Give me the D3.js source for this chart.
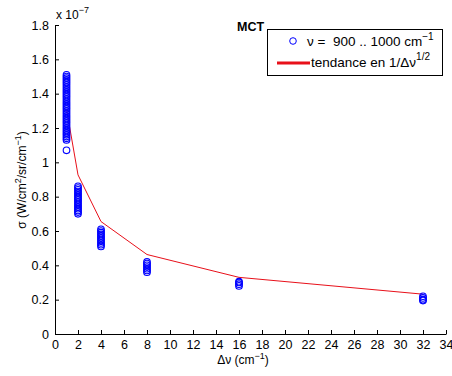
<!DOCTYPE html>
<html>
<head>
<meta charset="utf-8">
<script src="https://cdn.jsdelivr.net/npm/d3@7"></script>
<style>
  html, body { margin: 0; padding: 0; background: #fff; }
  svg { display: block; font-family: "Liberation Sans", Arial, Helvetica, sans-serif; }
</style>
</head>
<body>
<svg id="chart" width="452" height="376"></svg>
<script>
// Noise sigma (units of 1e-7 W/cm²/sr/cm⁻¹) vs spectral resolution Δν, MCT detector
const resolutions = [1, 2, 4, 8, 16, 32];
const sigmaAt1 = [1.07, 1.13, 1.14, 1.15, 1.16, 1.17, 1.18, 1.19, 1.20, 1.21, 1.22, 1.23, 1.24, 1.25,
  1.26, 1.27, 1.28, 1.29, 1.30, 1.31, 1.32, 1.33, 1.34, 1.35, 1.36, 1.37, 1.38, 1.39, 1.40,
  1.41, 1.42, 1.43, 1.44, 1.45, 1.46, 1.47, 1.48, 1.49, 1.50, 1.51];
const sigmaAt2 = [0.70, 0.71, 0.72, 0.73, 0.74, 0.75, 0.76, 0.77, 0.78, 0.79, 0.80, 0.81, 0.82,
  0.83, 0.84, 0.85, 0.86];
const sigmaAt4 = [0.51, 0.52, 0.53, 0.54, 0.55, 0.56, 0.57, 0.58, 0.59, 0.60, 0.61];
const sigmaAt8 = [0.36, 0.37, 0.38, 0.39, 0.40, 0.41, 0.42];
const sigmaAt16 = [0.28, 0.29, 0.30, 0.305];
const sigmaAt32 = [0.195, 0.20, 0.21, 0.22];
const sigmaSeries = [sigmaAt1, sigmaAt2, sigmaAt4, sigmaAt8, sigmaAt16, sigmaAt32];
// 1/sqrt(Δν) trend through the data
const trendValues = [1.31, 0.927, 0.655, 0.463, 0.33, 0.232];
const xTicks = [0, 2, 4, 6, 8, 10, 12, 14, 16, 18, 20, 22, 24, 26, 28, 30, 32, 34];
const yTicks = [0, 0.2, 0.4, 0.6, 0.8, 1, 1.2, 1.4, 1.6, 1.8];

const svg = d3.select("#chart");
const m = { left: 55, top: 25, right: 446, bottom: 334 };
const x = d3.scaleLinear().domain([0, 34]).range([m.left, m.right]);
const y = d3.scaleLinear().domain([0, 1.8]).range([m.bottom, m.top]);

const fontSize = 12.5;

// axes
const xAxis = svg.append("g").attr("transform", `translate(0,${m.bottom})`)
  .call(d3.axisBottom(x).tickValues(xTicks).tickFormat(d3.format("d")).tickSizeInner(-4).tickSizeOuter(0).tickPadding(6));
const yAxis = svg.append("g").attr("transform", `translate(${m.left},0)`)
  .call(d3.axisLeft(y).tickValues(yTicks).tickFormat(d => String(d)).tickSizeInner(-4).tickSizeOuter(0).tickPadding(6));
[xAxis, yAxis].forEach(g => {
  g.select(".domain").attr("stroke", "#000").attr("stroke-width", 1);
  g.selectAll(".tick line").attr("stroke", "#000");
  g.selectAll(".tick text").attr("font-size", fontSize).attr("font-family", null).attr("fill", "#000");
});

// exponent label
const expo = svg.append("text").attr("x", 56).attr("y", 19).attr("font-size", 12).attr("fill", "#000");
expo.append("tspan").text("x 10");
expo.append("tspan").attr("dy", -6).attr("font-size", 9).text("−7");

// trend line
svg.append("path")
  .datum(resolutions.map((r, i) => [r, trendValues[i]]))
  .attr("fill", "none").attr("stroke", "#e8101a").attr("stroke-width", 1)
  .attr("d", d3.line().x(d => x(d[0])).y(d => y(d[1])));

// measured points
const pts = [];
resolutions.forEach((r, i) => sigmaSeries[i].forEach(v => pts.push([r, v])));
svg.append("g").selectAll("circle").data(pts).join("circle")
  .attr("cx", d => x(d[0])).attr("cy", d => y(d[1])).attr("r", 3.3)
  .attr("fill", "none").attr("stroke", "#0000ff").attr("stroke-width", 1.1);

// axis titles
const xt = svg.append("text").attr("x", 243).attr("y", 364).attr("text-anchor", "middle")
  .attr("font-size", 12).attr("fill", "#000");
xt.append("tspan").text("Δν (cm");
xt.append("tspan").attr("dy", -5).attr("font-size", 9).text("−1");
xt.append("tspan").attr("dy", 5).text(")");

const yt = svg.append("text").attr("transform", "translate(26,180) rotate(-90)").attr("text-anchor", "middle")
  .attr("font-size", 12).attr("fill", "#000");
yt.append("tspan").text("σ (W/cm");
yt.append("tspan").attr("dy", -5).attr("font-size", 9).text("2");
yt.append("tspan").attr("dy", 5).text("/sr/cm");
yt.append("tspan").attr("dy", -5).attr("font-size", 9).text("−1");
yt.append("tspan").attr("dy", 5).text(")");

// title
svg.append("text").attr("x", 237).attr("y", 31).attr("font-size", 12.5).attr("font-weight", "bold")
  .attr("fill", "#000").text("MCT");

// legend
const lg = svg.append("g");
lg.append("rect").attr("x", 267.5).attr("y", 29.5).attr("width", 175).attr("height", 46)
  .attr("fill", "#fff").attr("stroke", "#000").attr("stroke-width", 1);
lg.append("circle").attr("cx", 293).attr("cy", 41).attr("r", 3.3)
  .attr("fill", "none").attr("stroke", "#0000ff");
const l1 = lg.append("text").attr("x", 307).attr("y", 46).attr("font-size", 13.5)
  .attr("xml:space", "preserve").style("white-space", "pre").attr("fill", "#000");
l1.append("tspan").text("ν =  900 .. 1000 cm");
l1.append("tspan").attr("dy", -6).attr("font-size", 10).text("−1");
lg.append("line").attr("x1", 277).attr("x2", 310).attr("y1", 63).attr("y2", 63)
  .attr("stroke", "#e8101a").attr("stroke-width", 3);
const l2 = lg.append("text").attr("x", 311).attr("y", 67).attr("font-size", 13.5).attr("fill", "#000");
l2.append("tspan").text("tendance en 1/Δν");
l2.append("tspan").attr("dy", -7).attr("font-size", 10).text("1/2");
</script>
</body>
</html>
